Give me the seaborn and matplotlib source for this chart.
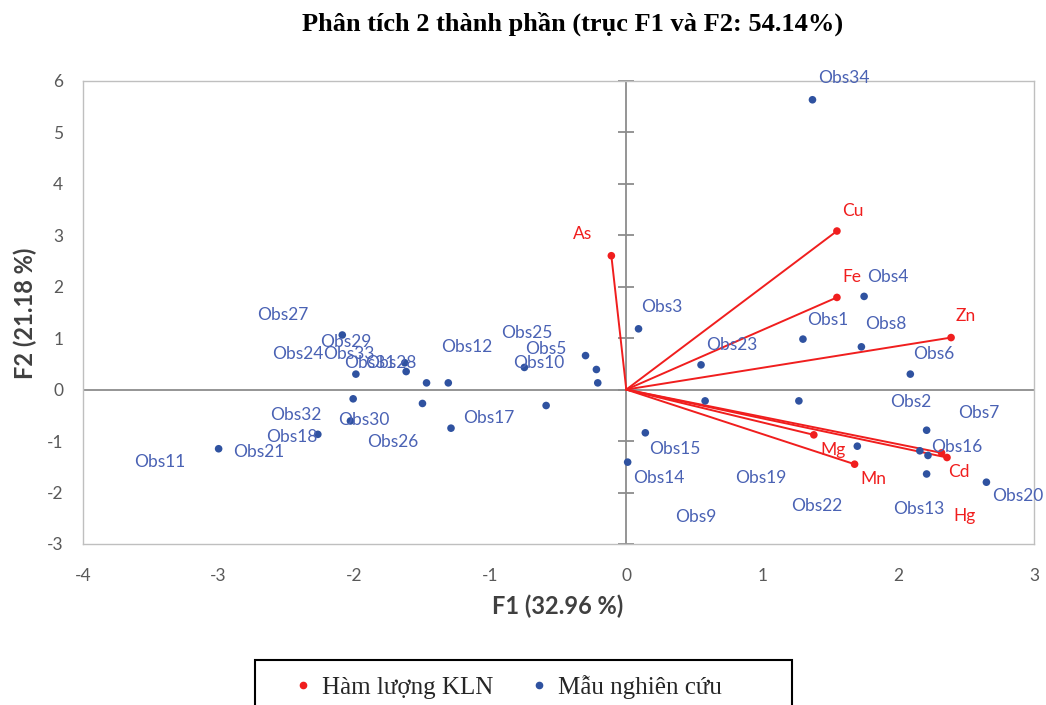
import matplotlib
matplotlib.use("Agg")
import matplotlib.pyplot as plt
from matplotlib.patches import Rectangle
from matplotlib.lines import Line2D
import seaborn as sns
import pandas as pd

# ---------------- data ----------------
var_names = ["As", "Cu", "Fe", "Zn", "Mg", "Mn", "Hg", "Cd"]
var_f1 = [-0.11, 1.55, 1.55, 2.39, 1.38, 1.68, 2.32, 2.36]
var_f2 = [2.60, 3.08, 1.79, 1.01, -0.88, -1.45, -1.23, -1.32]

obs_names = ["Obs34", "Obs3", "Obs1", "Obs4", "Obs8", "Obs23", "Obs6", "Obs9",
             "Obs19", "Obs15", "Obs14", "Obs22", "Obs2", "Obs7", "Obs16", "Obs13",
             "Obs20",
             "Obs27", "Obs29", "Obs31", "Obs28", "Obs24", "Obs12", "Obs10", "Obs25",
             "Obs5", "Obs33", "Obs30", "Obs26", "Obs17", "Obs32", "Obs18", "Obs21",
             "Obs11"]
obs_f1 = [1.37, 0.09, 1.30, 1.75, 1.73, 0.55, 2.09, 0.58,
          1.27, 0.14, 0.01, 1.70, 2.21, 2.16, 2.22, 2.21,
          2.65,
          -2.09, -1.99, -1.63, -1.62, -1.47, -1.31, -0.75, -0.30,
          -0.22, -0.21, -2.01, -1.50, -0.59, -2.03, -1.29, -2.27,
          -3.00]
obs_f2 = [5.63, 1.18, 0.98, 1.81, 0.83, 0.48, 0.30, -0.22,
          -0.22, -0.84, -1.41, -1.10, -0.79, -1.19, -1.28, -1.64,
          -1.80,
          1.06, 0.30, 0.52, 0.35, 0.13, 0.13, 0.43, 0.66,
          0.39, 0.13, -0.18, -0.27, -0.31, -0.61, -0.75, -0.87,
          -1.15]

x_ticks = [-4, -3, -2, -1, 0, 1, 2, 3]
y_ticks = [-3, -2, -1, 0, 1, 2, 3, 4, 5, 6]

title = "Phân tích 2 thành phần (trục F1 và F2: 54.14%)"
x_title = "F1 (32.96 %)"
y_title = "F2 (21.18 %)"
legend_labels = ["Hàm lượng KLN", "Mẫu nghiên cứu"]

# ---------------- layout (label anchors, left edge / centre) ----------------
var_label_pos = {
    "As": (-0.39, 3.02), "Cu": (1.59, 3.46), "Fe": (1.59, 2.18), "Zn": (2.42, 1.42),
    "Mg": (1.43, -1.17), "Mn": (1.72, -1.74), "Cd": (2.37, -1.60), "Hg": (2.41, -2.46),
}
obs_label_pos = {
    "Obs34": (1.41, 6.05), "Obs3": (0.11, 1.60), "Obs4": (1.77, 2.18), "Obs1": (1.33, 1.35),
    "Obs8": (1.76, 1.27), "Obs23": (0.59, 0.87), "Obs6": (2.11, 0.69), "Obs2": (1.94, -0.24),
    "Obs7": (2.44, -0.46), "Obs16": (2.24, -1.11), "Obs15": (0.17, -1.15),
    "Obs14": (0.05, -1.72), "Obs19": (0.80, -1.72), "Obs9": (0.36, -2.48),
    "Obs22": (1.21, -2.26), "Obs13": (1.96, -2.32), "Obs20": (2.69, -2.07),
    "Obs27": (-2.72, 1.45), "Obs29": (-2.25, 0.93), "Obs24": (-2.61, 0.70),
    "Obs33": (-2.23, 0.70), "Obs31": (-2.08, 0.51), "Obs28": (-1.92, 0.51),
    "Obs12": (-1.36, 0.82), "Obs25": (-0.92, 1.09), "Obs5": (-0.745, 0.78),
    "Obs10": (-0.83, 0.51), "Obs32": (-2.62, -0.49), "Obs30": (-2.12, -0.59),
    "Obs18": (-2.65, -0.92), "Obs26": (-1.91, -1.02), "Obs21": (-2.89, -1.21),
    "Obs11": (-3.62, -1.41), "Obs17": (-1.20, -0.56),
}

RED = "#F01E1E"
BLUE_DOT = "#2F52A0"
BLUE_TXT = "#4A62B4"
GREY = "#595959"

sns.set_style("white")
plt.rcParams["font.family"] = ["Lato", "DejaVu Sans"]

fig = plt.figure(figsize=(10.46, 7.05), dpi=100)
ax = fig.add_axes([0.0791, 0.2284, 0.9094, 0.6571])

df_var = pd.DataFrame({"F1": var_f1, "F2": var_f2, "group": legend_labels[0]})
df_obs = pd.DataFrame({"F1": obs_f1, "F2": obs_f2, "group": legend_labels[1]})
df = pd.concat([df_obs, df_var], ignore_index=True)

# zero axes
ax.axhline(0, color="#8C8C8C", lw=1.3, zorder=1)
ax.axvline(0, color="#8C8C8C", lw=1.3, zorder=1)
ax.plot([0] * len(y_ticks), y_ticks, ls="none", marker="_", ms=11.5,
        mew=1.3, color="#8C8C8C", zorder=1, clip_on=False)

# loading vectors
for vx, vy in zip(var_f1, var_f2):
    ax.plot([0, vx], [0, vy], color=RED, lw=1.4, zorder=2)

sns.scatterplot(data=df, x="F1", y="F2", hue="group",
                palette={legend_labels[0]: RED, legend_labels[1]: BLUE_DOT},
                s=30, edgecolor="none", legend=False, ax=ax, zorder=3)

for n in obs_names:
    lx, ly = obs_label_pos[n]
    ax.text(lx, ly, n, color=BLUE_TXT, fontsize=12.5, ha="left", va="center",
            clip_on=False, zorder=4)
for n in var_names:
    lx, ly = var_label_pos[n]
    ax.text(lx, ly, n, color=RED, fontsize=12.5, ha="left", va="center",
            clip_on=False, zorder=4)

ax.set_xlim(-4, 3)
ax.set_ylim(-3, 6)
ax.set_xticks(x_ticks)
ax.set_yticks(y_ticks)
ax.set_xticklabels([str(t) for t in x_ticks])
ax.set_yticklabels([str(t) for t in y_ticks])
ax.tick_params(axis="both", length=0, labelsize=12.5, labelcolor=GREY)
ax.tick_params(axis="x", pad=17)
ax.tick_params(axis="y", pad=14)
ax.set_xlabel("")
ax.set_ylabel("")
for sp in ax.spines.values():
    sp.set_color("#BFBFBF")
    sp.set_linewidth(1.0)
ax.grid(False)

fig.text(0.547, 0.966, title, ha="center", va="center", fontsize=19,
         fontweight="bold", family="Liberation Serif", color="black")
fig.text(0.5335, 0.1404, x_title, ha="center", va="center", fontsize=17,
         fontweight="bold", color="#404040")
fig.text(0.0239, 0.556, y_title, ha="center", va="center", fontsize=17,
         fontweight="bold", color="#404040", rotation=90)

# legend
fig.add_artist(Rectangle((255 / 1046, -0.05), (792 - 255) / 1046, 0.05 + (1 - 660 / 705),
                         transform=fig.transFigure, fill=False, edgecolor="black", lw=1.5))
handles = [Line2D([], [], ls="none", marker="o", ms=4.5, color=RED),
           Line2D([], [], ls="none", marker="o", ms=4.5, color=BLUE_DOT)]
fig.legend(handles, legend_labels, loc="center left", bbox_to_anchor=(0.2840, 0.0255),
           ncol=2, frameon=False, prop={"family": "Liberation Serif", "size": 18},
           handlelength=0.5, handletextpad=0.5, columnspacing=1.57,
           borderpad=0, borderaxespad=0)

fig.savefig("out.png", dpi=100)
